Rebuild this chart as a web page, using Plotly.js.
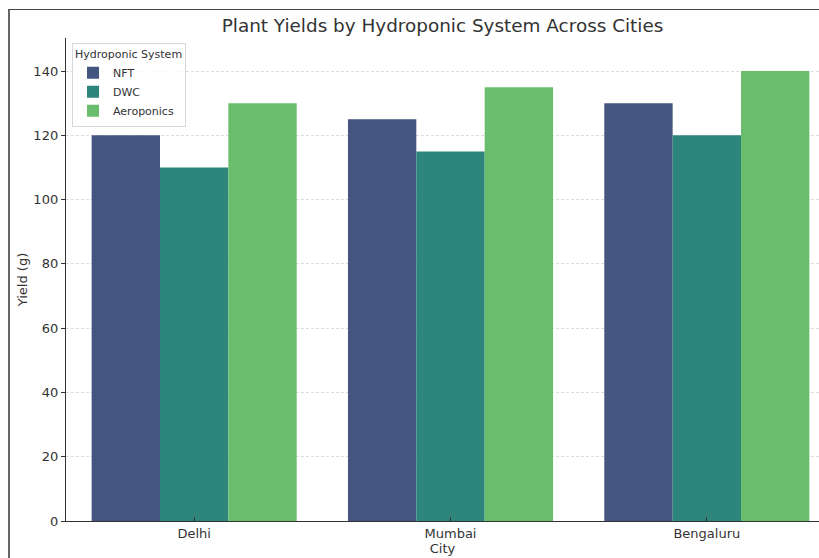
<!DOCTYPE html>
<html>
<head>
<meta charset="utf-8">
<script src="https://cdn.plot.ly/plotly-3.0.1.min.js"></script>
<style>
  html, body { margin: 0; padding: 0; background: #fff; }
  #wrap { position: relative; width: 819px; height: 558px; }
  #chart { width: 819px; height: 558px; }
  #frame { position: absolute; left: 8px; top: 9px; width: 811px; height: 549px;
           border-left: 2px solid #666; border-top: 1.5px solid #444; pointer-events: none; }
</style>
</head>
<body>
<div id="wrap">
  <div id="chart"></div>
  <div id="frame"></div>
</div>
<script>
const cities = ["Delhi", "Mumbai", "Bengaluru"];
const systems = ["NFT", "DWC", "Aeroponics"];
const nft = [120, 125, 130];
const dwc = [110, 115, 120];
const aeroponics = [130, 135, 140];
const yTicks = [0, 20, 40, 60, 80, 100, 120, 140];

const seriesValues = [nft, dwc, aeroponics];
const colors = ["#44557f", "#2d857c", "#6abd6c"];

const traces = systems.map((name, i) => ({
  type: "bar",
  name: name,
  x: cities,
  y: seriesValues[i],
  marker: { color: colors[i], line: { width: 0 } },
  hoverinfo: "x+y+name"
}));

const font = "DejaVu Sans, sans-serif";

const layout = {
  width: 819,
  height: 558,
  margin: { l: 66, r: 0, t: 38, b: 37, pad: 0 },
  paper_bgcolor: "#fff",
  plot_bgcolor: "#fff",
  barmode: "group",
  bargap: 0.2,
  bargroupgap: 0,
  font: { family: font, color: "#333", size: 13 },
  title: {
    text: "Plant Yields by Hydroponic System Across Cities",
    font: { family: font, size: 18.4, color: "#333" },
    x: 0.5, xref: "paper", xanchor: "center",
    y: 1 - 26 / 558, yref: "container", yanchor: "middle"
  },
  xaxis: {
    type: "category",
    range: [-0.5, 2.4376],
    showgrid: false,
    showline: true,
    linecolor: "#333",
    linewidth: 1.2,
    ticks: "inside",
    ticklen: 4,
    tickcolor: "#333",
    tickfont: { family: font, size: 13, color: "#333" },
    title: { text: "City", font: { family: font, size: 13, color: "#333" }, standoff: 2 },
    zeroline: false,
    fixedrange: true
  },
  yaxis: {
    range: [0, 150.3],
    tickvals: yTicks,
    ticktext: yTicks.map(String),
    showgrid: true,
    gridcolor: "#cfcfcf",
    griddash: "3px,2px",
    gridwidth: 0.7,
    showline: true,
    linecolor: "#333",
    linewidth: 1.2,
    ticks: "outside",
    ticklen: 4,
    tickcolor: "#333",
    tickfont: { family: font, size: 13, color: "#333" },
    title: { text: "Yield (g)", font: { family: font, size: 13, color: "#333" }, standoff: 2 },
    zeroline: false,
    fixedrange: true
  },
  showlegend: true,
  legend: {
    x: 0.008, y: 0.99, xanchor: "left", yanchor: "top",
    bgcolor: "rgba(255,255,255,0.8)",
    bordercolor: "#d8d8d8",
    borderwidth: 1,
    font: { family: font, size: 11, color: "#333" },
    title: { text: "Hydroponic System", font: { family: font, size: 11, color: "#333" } },
    tracegroupgap: 0,
    itemwidth: 30
  }
};

Plotly.newPlot("chart", traces, layout, { displayModeBar: false, staticPlot: true });
</script>
</body>
</html>
